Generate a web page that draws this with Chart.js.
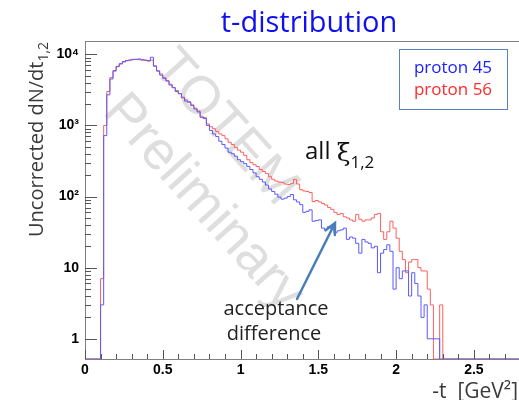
<!DOCTYPE html>
<html>
<head>
<meta charset="utf-8">
<script src="https://cdn.jsdelivr.net/npm/chart.js@4.4.1/dist/chart.umd.min.js"></script>
<style>
  html, body { margin: 0; padding: 0; background: #fff; }
  #wrap { width: 519px; height: 400px; position: relative; }
</style>
</head>
<body>
<div id="wrap"><canvas id="c"></canvas></div>
<script>
// histogram bins: left edge of first filled bin, bin width (GeV^2)
const binStart = 0.10;
const binWidth = 0.02;

// counts per bin (0 = empty bin)
const proton45 = [
  3, 720, 2700, 4500, 5900, 6700, 7400, 7900, 8200, 8300,
  8500, 8500, 8600, 8400, 8300, 8200, 9100, 6800, 5800, 5100,
  4600, 4200, 3700, 3400, 3000, 2800, 2450, 2200, 2150, 1900,
  1700, 1550, 1300, 1250, 1000, 850, 760, 700, 600, 540,
  480, 420, 400, 370, 330, 310, 290, 265, 240, 215,
  190, 175, 160, 145, 128, 118, 108, 98, 92, 95,
  100, 107, 90, 84, 77, 60, 62, 65, 45, 46,
  47, 36, 34, 38, 35, 31, 33, 34, 36, 25,
  27, 26, 22, 16, 25, 23, 22, 19, 20, 8.5,
  16, 18, 21, 17, 5, 10, 7, 9, 9, 4,
  8.5, 6, 4, 2, 3, 1, 1, 1, 1, 0
];
const proton56 = [
  7, 1000, 3000, 4700, 5800, 6800, 7300, 7800, 8100, 8300,
  8400, 8500, 8400, 8300, 8200, 8000, 8300, 6900, 5900, 5300,
  4700, 4300, 3800, 3400, 3100, 2800, 2500, 2300, 2100, 1950,
  1750, 1600, 1350, 1290, 1050, 960, 900, 820, 760, 720,
  650, 580, 540, 490, 450, 420, 380, 330, 300, 280,
  265, 240, 225, 210, 190, 175, 165, 160, 158, 150,
  148, 152, 174, 150, 125, 120, 118, 114, 85, 88,
  84, 80, 76, 70, 66, 60, 56, 58, 52, 50,
  47, 45, 56, 48, 45, 47, 47, 50, 56, 58,
  32, 25, 32, 45, 36, 26, 17, 13, 8.5, 12,
  13, 13, 10, 9, 9, 5, 3, 0, 0, 3
];

const seriesNames = ['proton 45', 'proton 56'];
const xTicks = [0, 0.5, 1, 1.5, 2, 2.5];
const yTicks = [1, 10, 100, 1000, 10000];
const yTickText = ['1', '10', '10²', '10³', '10⁴'];

const xMin = 0, xMax = 2.79;
const yMin = 0.52, yMax = 15400;

// bin contents -> step points (value held until the next edge); empty bins lie on the frame bottom
function steps(vals) {
  const pts = [{ x: xMin, y: yMin }];
  vals.forEach((v, i) => {
    pts.push({ x: +(binStart + i * binWidth).toFixed(2), y: v > 0 ? v : yMin });
  });
  const end = +(binStart + vals.length * binWidth).toFixed(2);
  pts.push({ x: end, y: yMin });
  pts.push({ x: xMax, y: yMin });
  return pts;
}

const watermark = {
  id: 'watermark',
  beforeDatasetsDraw(chart) {
    const ctx = chart.ctx;
    const lines = [['TOTEM', 225, 128], ['Preliminary', 203, 203]];
    lines.forEach(([txt, cx, cy]) => {
      ctx.save();
      ctx.fillStyle = 'rgba(200,200,200,0.6)';
      ctx.font = '54px "Liberation Sans"';
      ctx.textAlign = 'center';
      ctx.textBaseline = 'middle';
      ctx.translate(cx, cy);
      ctx.rotate(48 * Math.PI / 180);
      ctx.fillText(txt, 0, 0);
      ctx.restore();
    });
  }
};

const decorations = {
  id: 'decorations',
  afterDraw(chart) {
    const ctx = chart.ctx;
    const a = chart.chartArea;
    const xs = chart.scales.x, ys = chart.scales.y;

    // frame
    ctx.save();
    ctx.strokeStyle = '#808080';
    ctx.lineWidth = 1;
    ctx.strokeRect(a.left + 0.5, a.top + 0.5, a.right - a.left, a.bottom - a.top);

    // inside tick marks, ROOT style
    ctx.strokeStyle = '#555';
    ctx.beginPath();
    for (let d = 1; d <= 10000; d *= 10) {
      for (let m = 1; m <= 9; m++) {
        const v = d * m;
        if (v < yMin || v > yMax) continue;
        const py = Math.round(ys.getPixelForValue(v)) + 0.5;
        ctx.moveTo(a.left, py);
        ctx.lineTo(a.left + (m === 1 ? 12 : 6), py);
      }
    }
    for (let i = 0; i <= 27; i++) {
      const px = Math.round(xs.getPixelForValue(i / 10)) + 0.5;
      ctx.moveTo(px, a.bottom);
      ctx.lineTo(px, a.bottom - (i % 5 === 0 ? 9 : 5));
    }
    ctx.stroke();
    ctx.restore();

    // title
    ctx.save();
    ctx.fillStyle = '#1010ee';
    ctx.font = '29px "Open Sans"';
    ctx.textAlign = 'center';
    ctx.textBaseline = 'alphabetic';
    ctx.fillText('t-distribution', 309, 32);

    // y axis title with subscript
    ctx.fillStyle = '#3a3a3a';
    ctx.translate(43, 237);
    ctx.rotate(-Math.PI / 2);
    ctx.font = '20px "Open Sans"';
    ctx.textAlign = 'left';
    const main = 'Uncorrected dN/dt';
    ctx.fillText(main, 0, 0);
    const w = ctx.measureText(main).width;
    ctx.font = '14px "Open Sans"';
    ctx.fillText('1,2', w, 5);
    ctx.restore();

    // x axis title
    ctx.save();
    ctx.fillStyle = '#3a3a3a';
    ctx.font = '21px "Open Sans"';
    ctx.textAlign = 'right';
    ctx.fillText('-t  [GeV²]', 518, 398);
    ctx.restore();

    // legend box
    ctx.save();
    ctx.strokeStyle = '#5b7fbf';
    ctx.lineWidth = 1;
    ctx.strokeRect(399.5, 49.5, 108, 60);
    ctx.font = '17px "Open Sans"';
    ctx.textAlign = 'center';
    ctx.textBaseline = 'middle';
    ctx.fillStyle = '#2020ff';
    ctx.fillText(seriesNames[0], 453, 68);
    ctx.fillStyle = '#ff2a2a';
    ctx.fillText(seriesNames[1], 453, 90);
    ctx.restore();

    // annotations
    ctx.save();
    ctx.fillStyle = '#111';
    ctx.font = '24px "Open Sans"';
    ctx.textAlign = 'left';
    ctx.fillText('all ', 305, 159);
    let x0 = 305 + ctx.measureText('all ').width;
    ctx.font = '25px "DejaVu Serif"';
    ctx.fillText('ξ', x0, 161);
    x0 += ctx.measureText('ξ').width;
    ctx.font = '17px "Open Sans"';
    ctx.fillText('1,2', x0, 168);

    ctx.font = '20px "Open Sans"';
    ctx.fillStyle = '#222';
    ctx.textAlign = 'center';
    ctx.textBaseline = 'middle';
    ctx.fillText('acceptance', 276, 309);
    ctx.fillText('difference', 274, 334);

    // arrow
    ctx.strokeStyle = '#4a7ebb';
    ctx.lineWidth = 2.5;
    ctx.lineCap = 'round';
    const tx = 335, ty = 223, fx = 297, fy = 299;
    const ang = Math.atan2(ty - fy, tx - fx);
    ctx.beginPath();
    ctx.moveTo(fx, fy);
    ctx.lineTo(tx, ty);
    ctx.moveTo(tx - 12 * Math.cos(ang - 0.45), ty - 12 * Math.sin(ang - 0.45));
    ctx.lineTo(tx, ty);
    ctx.lineTo(tx - 12 * Math.cos(ang + 0.45), ty - 12 * Math.sin(ang + 0.45));
    ctx.stroke();
    ctx.restore();
  }
};

new Chart(document.getElementById('c'), {
  type: 'line',
  data: {
    datasets: [
      {
        label: seriesNames[0],
        data: steps(proton45),
        borderColor: '#5a5aff',
        borderWidth: 1,
        stepped: 'before',
        pointRadius: 0,
        fill: false
      },
      {
        label: seriesNames[1],
        data: steps(proton56),
        borderColor: '#ff6060',
        borderWidth: 1,
        stepped: 'before',
        pointRadius: 0,
        fill: false
      }
    ]
  },
  options: {
    responsive: true,
    maintainAspectRatio: false,
    animation: false,
    events: [],
    layout: { padding: { top: 41, right: 0, left: 0, bottom: 0 } },
    plugins: {
      legend: { display: false },
      tooltip: { enabled: false }
    },
    scales: {
      x: {
        type: 'linear',
        min: xMin,
        max: xMax,
        afterFit: s => { s.height = 41; },
        afterBuildTicks: s => { s.ticks = xTicks.map(v => ({ value: v })); },
        ticks: {
          callback: v => String(v),
          font: { family: '"Liberation Sans"', size: 14, weight: 'bold' },
          color: '#000',
          maxRotation: 0,
          autoSkip: false,
          padding: 3
        },
        grid: { display: false, drawTicks: false },
        border: { display: false }
      },
      y: {
        type: 'logarithmic',
        min: yMin,
        max: yMax,
        afterFit: s => { s.width = 85; },
        afterBuildTicks: s => { s.ticks = yTicks.map(v => ({ value: v })); },
        ticks: {
          callback: v => yTickText[yTicks.indexOf(v)],
          font: { family: '"Liberation Sans"', size: 14, weight: 'bold' },
          color: '#000',
          autoSkip: false,
          padding: 6
        },
        grid: { display: false, drawTicks: false },
        border: { display: false }
      }
    }
  },
  plugins: [watermark, decorations]
});
</script>
</body>
</html>
